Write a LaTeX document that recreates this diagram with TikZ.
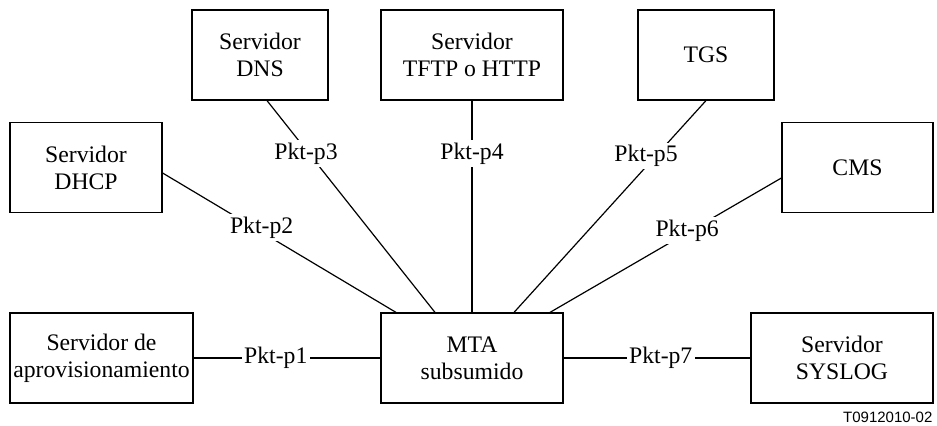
\documentclass[tikz,border=0pt]{standalone}
\usepackage{fontspec}
\setmainfont{Liberation Serif}
\newfontfamily\refsans{Liberation Sans}
\usepackage{tikz}

\begin{document}
\begin{tikzpicture}[x=0.5pt, y=-0.5pt, line width=0.6pt,
  server/.style={draw, align=center, inner sep=0pt, minimum height=45pt, font=\fontsize{11.85}{13.5}\selectfont},
  pkt/.style={fill=white, inner sep=1.2pt, font=\fontsize{11.85}{13.5}\selectfont}]
\useasboundingbox (0,0) rectangle (937,426);
\node[server, minimum width=68pt] (dns) at (260,55) {Servidor\\DNS};
\node[server, minimum width=91pt] (tftp) at (472,55) {Servidor\\TFTP o HTTP};
\node[server, minimum width=68pt] (tgs) at (706,55) {TGS};
\node[server, minimum width=76pt] (dhcp) at (86,167.5) {Servidor\\DHCP};
\node[server, minimum width=75.5pt] (cms) at (857.5,167.5) {CMS};
\node[server, minimum width=91.5pt] (prov) at (101.5,358) {Servidor de\\aprovisionamiento};
\node[server, minimum width=91pt] (mta) at (472,358) {MTA\\subsumido};
\node[server, minimum width=91pt] (syslog) at (842,358) {Servidor\\SYSLOG};
\draw (prov) -- node[pkt, pos=0.44] {Pkt-p1} (mta);
\draw ([yshift=-2.75pt]dhcp.east) -- node[pkt, pos=0.39, xshift=4pt] {Pkt-p2} ([xshift=-38pt]mta.north);
\draw ([xshift=3.5pt]dns.south) -- node[pkt, pos=0.25, xshift=-1.5pt] {Pkt-p3} ([xshift=-18.5pt]mta.north);
\draw (tftp) -- node[pkt, pos=0.25] {Pkt-p4} (mta);
\draw (tgs.south) -- node[pkt, pos=0.26, xshift=-5pt] {Pkt-p5} ([xshift=21pt]mta.north);
\draw ([yshift=-5.25pt]cms.west) -- node[pkt, pos=0.39, xshift=-2pt] {Pkt-p6} ([xshift=39pt]mta.north);
\draw (mta) -- node[pkt, pos=0.52] {Pkt-p7} (syslog);
\node[anchor=base east, inner sep=0pt, font=\refsans\fontsize{7.5}{9}\selectfont] (code) at (933,423) {T0912010-02};
\end{tikzpicture}
\end{document}
